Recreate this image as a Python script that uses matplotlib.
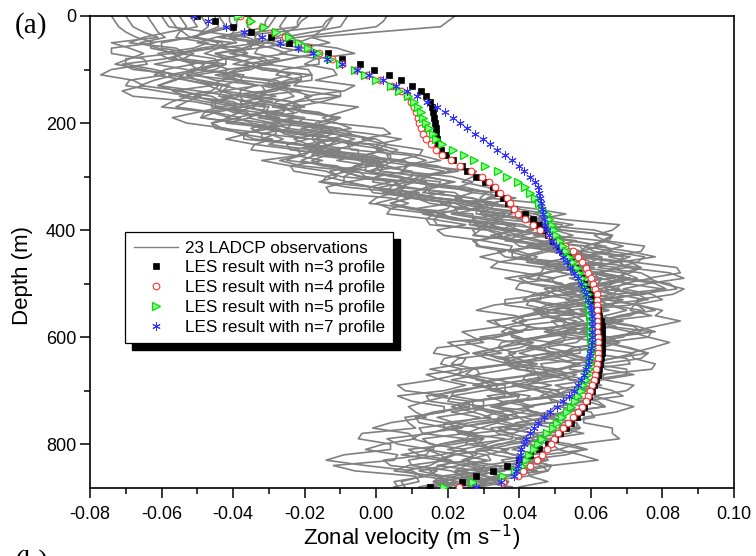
import numpy as np
import matplotlib
matplotlib.use('Agg')
import matplotlib.pyplot as plt
from matplotlib.patches import Rectangle
from matplotlib.ticker import MultipleLocator

plt.rcParams['font.family'] = ['Liberation Sans', 'DejaVu Sans']

# LADCP zonal velocity (mm/s) for the 23 casts, at 0, 20, 40 ... 880 m
obs_depth = np.arange(0, 881, 20)
ladcp_u = [
    [-74, -72, -67, -74, -65, -74, -68, -71, -51, -50, -53, -38, -34, -23, -24, -14, -14, 4, 4, 16, 17, 30, 37, 34, 41, 40, 46, 33, 39, 35, 27, 17, 25, 15, 16, 8, 14, 11, 4, 9, 2, 6, -12, 11, 5],
    [-12, -14, -18, -21, -16, -26, -21, -10, -22, -16, -16, -2, 0, 12, 9, 21, 23, 39, 39, 45, 61, 63, 71, 68, 82, 76, 77, 72, 77, 65, 76, 70, 74, 64, 63, 66, 57, 60, 52, 58, 51, 53, 46, 42, 30],
    [-64, -62, -59, -61, -70, -62, -62, -54, -53, -45, -46, -30, -30, -20, -21, -9, -1, 0, 11, 16, 32, 27, 40, 42, 48, 43, 52, 42, 43, 35, 34, 30, 23, 28, 21, 25, 15, 18, 12, 15, 6, 14, 4, 14, 6],
    [-35, -36, -32, -29, -35, -28, -30, -21, -32, -22, -21, -7, -7, -3, 11, 12, 21, 22, 40, 40, 51, 54, 66, 60, 71, 70, 75, 65, 64, 67, 61, 63, 55, 61, 54, 56, 49, 54, 42, 48, 43, 47, 36, 30, 36],
    [-55, -53, -56, -51, -58, -49, -53, -46, -48, -38, -31, -32, -21, -18, -4, -10, 4, 10, 20, 21, 40, 38, 46, 44, 55, 56, 50, 55, 48, 52, 38, 40, 34, 37, 28, 36, 26, 27, 19, 26, 22, 12, 19, 19, 22],
    [-21, -22, -44, -37, -42, -35, -39, -38, -29, -30, -22, -23, -5, -7, 2, 4, 17, 15, 30, 35, 50, 48, 54, 63, 59, 66, 59, 65, 58, 60, 53, 57, 45, 51, 46, 50, 39, 39, 45, 34, 35, 28, 34, 25, 29],
    [-49, -47, -50, -43, -42, -50, -43, -43, -32, -40, -27, -23, -13, -14, 3, 0, 9, 11, 26, 33, 37, 50, 50, 60, 55, 62, 57, 60, 51, 59, 47, 47, 39, 46, 42, 32, 39, 34, 37, 27, 30, 22, 30, 22, 24],
    [3, 0, -22, -26, -24, -32, -18, -23, -23, -23, -11, -15, 0, 3, 16, 13, 20, 33, 33, 46, 49, 63, 63, 71, 69, 78, 67, 73, 68, 72, 65, 64, 70, 59, 60, 53, 59, 52, 56, 44, 49, 43, 49, 33, 29],
    [-41, -40, -52, -63, -56, -59, -53, -57, -40, -45, -37, -37, -22, -17, -15, -3, -2, 12, 11, 24, 29, 40, 38, 52, 47, 52, 45, 52, 48, 38, 40, 34, 37, 27, 30, 22, 30, 21, 23, 13, 18, 18, 9, 17, 12],
    [-30, -31, -34, -37, -31, -42, -31, -31, -24, -29, -23, -12, -12, -1, 0, 13, 14, 26, 28, 43, 42, 56, 58, 68, 62, 66, 73, 62, 63, 56, 63, 55, 59, 47, 52, 46, 52, 43, 39, 44, 38, 39, 30, 36, 26],
    [-60, -58, -36, -44, -42, -49, -38, -36, -38, -28, -28, -16, -17, -6, -3, 7, 6, 24, 23, 34, 37, 52, 55, 51, 63, 62, 66, 56, 59, 51, 58, 48, 50, 40, 45, 45, 36, 38, 33, 38, 25, 31, 27, 28, 19],
    [-70, -68, -61, -69, -69, -65, -69, -61, -57, -46, -46, -36, -34, -21, -24, -11, -8, 6, 4, 14, 31, 28, 36, 35, 46, 43, 48, 36, 41, 35, 33, 23, 19, 24, 18, 19, 10, 19, 9, -4, 4, -9, -3, 13, 8],
    [22, 18, -18, -11, -17, -12, -17, -9, -18, -10, -12, 4, 3, 12, 13, 27, 31, 31, 47, 52, 66, 64, 74, 72, 85, 80, 83, 73, 78, 78, 76, 77, 72, 77, 64, 70, 66, 67, 58, 66, 56, 57, 49, 43, 40],
    [-12, -15, -41, -33, -39, -36, -38, -28, -37, -26, -24, -12, -14, -6, 9, 5, 14, 17, 32, 35, 50, 46, 58, 58, 69, 64, 61, 66, 60, 61, 53, 61, 51, 51, 46, 51, 39, 45, 40, 44, 34, 33, 36, 24, 27],
    [-45, -44, -51, -46, -54, -45, -50, -44, -45, -33, -30, -32, -16, -13, -1, -4, 7, 9, 26, 27, 40, 38, 50, 56, 52, 58, 54, 59, 46, 52, 45, 45, 36, 44, 34, 35, 27, 33, 30, 23, 28, 21, 25, 18, 21],
    [-19, -22, -28, -20, -24, -19, -25, -20, -15, -21, -13, -12, 3, 4, 17, 12, 25, 29, 44, 45, 52, 65, 66, 73, 69, 82, 73, 73, 68, 73, 66, 71, 66, 70, 60, 59, 62, 53, 56, 48, 54, 47, 49, 33, 38],
    [-52, -50, -65, -56, -59, -68, -56, -56, -43, -48, -38, -38, -21, -22, -11, -14, -1, 9, 9, 21, 27, 40, 34, 46, 47, 52, 44, 52, 42, 43, 29, 34, 31, 24, 29, 22, 26, 16, 19, 13, 16, 7, 15, 13, 14],
    [-8, -10, -26, -35, -33, -39, -28, -30, -24, -31, -19, -17, -2, -3, 2, 14, 16, 27, 27, 46, 47, 55, 57, 68, 61, 71, 67, 71, 61, 60, 65, 55, 58, 50, 56, 49, 51, 44, 49, 37, 43, 38, 42, 27, 27],
    [-38, -39, -41, -49, -45, -52, -39, -43, -35, -40, -28, -20, -20, -10, -6, 6, 1, 17, 22, 33, 35, 51, 48, 55, 52, 62, 60, 53, 58, 51, 53, 42, 45, 39, 42, 33, 41, 31, 32, 24, 31, 27, 17, 26, 21],
    [-25, -27, -23, -33, -27, -32, -21, -25, -28, -18, -17, -8, -8, 9, 8, 15, 18, 33, 30, 46, 52, 64, 61, 66, 74, 69, 73, 65, 71, 64, 69, 61, 66, 54, 60, 55, 59, 48, 48, 54, 43, 44, 37, 37, 30],
    [-58, -56, -52, -60, -54, -53, -57, -50, -46, -36, -42, -28, -23, -14, -14, 1, -1, 10, 11, 27, 35, 36, 48, 47, 56, 50, 54, 48, 51, 42, 45, 34, 35, 27, 34, 30, 20, 27, 22, 25, 15, 18, 10, 24, 15],
    [-28, -30, -45, -38, -43, -41, -45, -31, -36, -31, -29, -16, -19, -5, -1, 10, 8, 17, 29, 30, 44, 44, 57, 56, 63, 60, 66, 54, 60, 55, 58, 46, 46, 52, 41, 42, 35, 41, 34, 38, 26, 31, 25, 31, 22],
    [-44, -42, -52, -45, -57, -50, -49, -43, -45, -32, -35, -26, -25, -11, -5, -5, 8, 11, 24, 24, 38, 40, 50, 47, 60, 54, 56, 48, 55, 51, 38, 44, 39, 42, 32, 35, 27, 35, 26, 28, 18, 23, 23, 17, 19],
]

# the same casts at the in-between depths 10, 30, 50 ... 870 m
mid_depth = np.arange(10, 871, 20)
ladcp_u_mid = [
    [-73, -70, -62, -74, -64, -77, -65, -68, -43, -57, -42, -29, -35, -15, -23, -8, -13, 9, 3, 25, 19, 38, 43, 32, 50, 39, 46, 28, 42, 24, 30, 16, 24, 23, 6, 20, 9, 14, -1, 11, -3, 5, -6, 12],
    [-13, -16, -13, -27, -16, -28, -23, -10, -28, -12, -15, 7, 1, 18, 7, 27, 27, 32, 48, 44, 66, 61, 78, 70, 86, 69, 80, 71, 64, 77, 64, 76, 63, 72, 60, 69, 51, 61, 51, 48, 58, 41, 48, 30],
    [-63, -61, -66, -57, -70, -56, -66, -49, -56, -38, -43, -26, -18, -27, -6, -9, 5, -2, 19, 17, 38, 29, 45, 52, 40, 57, 43, 49, 31, 40, 25, 35, 21, 29, 30, 14, 26, 11, 20, 3, 15, 2, 17, 5],
    [-36, -34, -36, -25, -40, -24, -30, -34, -21, -31, -10, -13, 3, -1, 19, 9, 27, 27, 33, 52, 44, 64, 57, 74, 66, 80, 62, 70, 62, 57, 68, 50, 62, 52, 63, 48, 59, 40, 50, 42, 38, 48, 24, 37],
    [-54, -55, -47, -61, -45, -55, -44, -55, -38, -42, -24, -32, -16, -4, -13, 6, 3, 21, 13, 36, 32, 50, 40, 54, 63, 47, 62, 48, 56, 37, 44, 30, 44, 28, 36, 38, 21, 32, 19, 30, 9, 21, 12, 29],
    [-22, -33, -33, -45, -32, -45, -34, -38, -37, -20, -32, -10, -12, 5, -2, 18, 8, 28, 29, 36, 55, 42, 63, 55, 71, 58, 69, 54, 64, 53, 48, 57, 39, 53, 42, 53, 34, 49, 32, 40, 28, 24, 36, 18],
    [-48, -49, -43, -36, -52, -38, -47, -32, -44, -29, -32, -10, -19, -2, 9, -1, 19, 15, 36, 27, 49, 43, 63, 53, 63, 67, 53, 65, 51, 59, 39, 48, 36, 52, 32, 40, 44, 30, 41, 25, 32, 18, 31, 16],
    [2, -11, -30, -17, -33, -18, -29, -18, -27, -24, -7, -17, 6, 4, 23, 12, 34, 25, 45, 44, 49, 69, 58, 74, 68, 81, 65, 78, 62, 74, 61, 60, 71, 51, 61, 50, 64, 49, 57, 39, 51, 42, 34, 37],
    [-41, -46, -63, -56, -51, -62, -46, -53, -37, -49, -32, -37, -12, -21, -5, 4, -1, 21, 14, 33, 27, 44, 38, 58, 45, 53, 56, 44, 52, 35, 43, 28, 37, 22, 34, 21, 30, 29, 12, 25, 14, 20, 5, 20],
    [-31, -33, -32, -40, -29, -42, -24, -36, -22, -30, -25, -6, -16, 3, 1, 22, 15, 34, 28, 48, 45, 50, 69, 56, 68, 64, 76, 58, 67, 52, 64, 53, 46, 56, 40, 53, 42, 49, 37, 48, 31, 40, 29, 24],
    [-59, -47, -32, -48, -42, -37, -43, -28, -37, -22, -30, -12, -19, 3, -3, 11, 22, 18, 38, 32, 51, 46, 58, 50, 71, 59, 65, 65, 49, 64, 49, 55, 37, 48, 38, 49, 32, 40, 43, 26, 37, 25, 34, 16],
    [-69, -65, -74, -65, -73, -59, -70, -52, -60, -41, -45, -42, -22, -32, -14, -16, 7, 0, 16, 15, 35, 28, 29, 47, 36, 50, 36, 47, 33, 41, 20, 26, 18, 14, 25, 6, 19, 8, 11, -5, 4, -14, 10, 7],
    [20, 0, -22, -6, -20, -11, -6, -20, -5, -15, 2, -4, 13, 6, 28, 24, 35, 46, 44, 68, 61, 75, 65, 84, 76, 86, 73, 80, 85, 71, 82, 71, 78, 63, 72, 61, 72, 58, 66, 68, 51, 62, 42, 48],
    [-14, -28, -31, -45, -34, -43, -25, -38, -25, -33, -13, -17, -17, 8, -2, 14, 10, 33, 29, 50, 40, 57, 54, 57, 73, 54, 68, 57, 69, 52, 64, 48, 56, 45, 42, 51, 33, 47, 36, 47, 29, 42, 22, 31],
    [-45, -48, -44, -57, -42, -53, -43, -38, -45, -23, -35, -18, -23, -2, -10, 10, 3, 22, 34, 28, 48, 40, 59, 46, 60, 49, 65, 48, 53, 56, 39, 50, 36, 45, 27, 36, 23, 40, 22, 30, 32, 17, 31, 16],
    [-21, -25, -31, -16, -31, -18, -29, -10, -23, -10, -21, 0, 0, 4, 21, 10, 31, 31, 53, 44, 66, 58, 75, 67, 69, 84, 64, 75, 65, 78, 64, 76, 60, 70, 56, 54, 64, 46, 56, 45, 59, 43, 48, 28],
    [-51, -58, -69, -53, -71, -54, -61, -46, -39, -49, -29, -34, -16, -25, -8, -15, 12, 4, 19, 31, 28, 46, 36, 53, 42, 53, 41, 55, 38, 40, 39, 27, 37, 23, 32, 16, 26, 11, 24, 10, 16, 18, 8, 23],
    [-9, -18, -35, -41, -30, -43, -25, -33, -20, -30, -11, -18, 2, -5, 1, 21, 13, 31, 31, 55, 46, 63, 55, 70, 62, 62, 75, 57, 65, 57, 68, 52, 61, 45, 58, 46, 41, 53, 34, 44, 35, 48, 30, 34],
    [-39, -40, -39, -55, -44, -53, -33, -44, -34, -27, -30, -11, -19, -2, -8, 9, 2, 28, 23, 38, 50, 44, 61, 50, 63, 53, 62, 49, 63, 47, 52, 51, 36, 50, 34, 43, 28, 37, 21, 36, 24, 26, 29, 18],
    [-26, -25, -23, -34, -37, -21, -32, -23, -29, -10, -18, -1, -7, 14, 8, 10, 32, 23, 42, 43, 66, 58, 71, 62, 77, 67, 62, 74, 59, 71, 59, 72, 55, 64, 50, 62, 50, 41, 57, 40, 48, 35, 45, 29],
    [-57, -54, -60, -51, -62, -50, -61, -40, -46, -35, -28, -32, -10, -18, -1, -8, 10, 4, 27, 26, 40, 49, 42, 61, 49, 58, 43, 55, 40, 52, 35, 39, 38, 25, 41, 21, 30, 17, 29, 13, 25, 9, 21, 27],
    [-29, -38, -50, -36, -46, -50, -32, -43, -30, -36, -15, -23, -5, -11, 10, 5, 6, 29, 21, 41, 38, 59, 52, 67, 54, 68, 56, 50, 64, 48, 56, 40, 57, 42, 49, 31, 43, 34, 29, 38, 20, 32, 22, 35],
    [-43, -47, -40, -55, -48, -58, -41, -51, -31, -39, -27, -19, -24, 1, -9, 8, 2, 23, 17, 39, 34, 49, 56, 48, 66, 51, 58, 44, 58, 38, 49, 37, 45, 44, 28, 40, 27, 37, 19, 28, 14, 31, 15, 22],
]

# LES zonal velocity (mm/s) every 10 m for the four mixing-profile exponents
les_depth = np.arange(0, 881, 10)
les_n3 = [-50, -45, -40, -35, -29.5, -24.5, -19, -13.5, -9.5, -4.5,
          -0.5, 3.5, 7, 10, 12.5, 14, 15, 15.6, 16, 16.2,
          16.4, 16.6, 16.8, 17, 17.3, 18, 19.5, 21.5, 24, 25.5,
          28, 30.5, 32.5, 34, 35.5, 36.8, 38.5, 41.5, 43.8, 45.5,
          46.6, 48, 49.5, 51, 52.3, 53.5, 54.5, 55.5, 56.5, 57.3,
          58.2, 59, 59.8, 60.6, 61.5, 62, 62.4, 62.7, 63, 63,
          63, 63, 63, 63, 62.8, 62.6, 62.3, 62, 61.5, 60.8,
          60.3, 59.5, 58.8, 58, 57.2, 56, 54.5, 53, 51.5, 50,
          48, 45.5, 43, 40, 36.5, 32.5, 28, 24, 15]
les_n4 = [-38, -35.5, -32, -28.5, -25.5, -22, -19, -16, -12.5, -9.5,
          -6, -2.5, 1, 4.5, 7, 8.5, 9.8, 10.6, 11.2, 11.6,
          12, 12.4, 13.2, 14, 15.3, 16.6, 18.5, 21, 23.5, 26.5,
          29.5, 31.5, 33.3, 34.6, 36.5, 37.5, 38.5, 39.5, 41.5, 43.8,
          45.8, 48.3, 50.5, 52.8, 55, 56.3, 57.5, 58.5, 59.3, 60,
          60.6, 61.2, 61.7, 61.7, 61.7, 61.7, 61.7, 61.7, 61.7, 61.8,
          61.9, 62, 62, 62, 62, 61.8, 61.5, 61.2, 60.8, 60.3,
          59.8, 59.3, 58.7, 57.6, 56.3, 55, 53.6, 52.2, 50.8, 49.6,
          48.8, 47.8, 46.3, 44.8, 43, 41, 39.5, 35.5, 23]
les_n5 = [-38.5, -35, -31.5, -28, -24.5, -21.5, -19, -16.3, -13, -10,
          -6, -3, 0, 4, 6.5, 8.8, 10.6, 11.7, 12.5, 13,
          14, 14.8, 15.8, 16.8, 18.5, 21.5, 24.5, 27.3, 30.5, 34,
          36.5, 39.5, 41.5, 43, 44.5, 45.5, 46.2, 47.7, 48.3, 49,
          49.6, 50.3, 51.3, 52.2, 53.1, 54, 55, 56, 56.8, 57.5,
          58.2, 58.7, 59.1, 59.4, 59.6, 59.8, 59.8, 59.9, 60, 60.1,
          60.1, 60.2, 60.2, 60.1, 60, 59.8, 59.5, 59, 58.5, 57.9,
          57.2, 56.4, 55.5, 54.5, 53.3, 51.8, 50.5, 49.3, 47.8, 46.3,
          45.3, 44, 42.8, 42, 40.7, 38.8, 35.5, 27, 19]
les_n7 = [-51, -47, -42, -37, -32, -27, -22, -17.8, -13.8, -9.5,
          -5.5, -2, 2, 5.5, 8.5, 11.5, 14.3, 17, 19.3, 21.5,
          23.5, 25.5, 27.7, 29.8, 31.8, 33.8, 36, 38, 39.8, 41.3,
          43, 44.3, 45.2, 45.5, 45.8, 46, 46.2, 46.5, 46.8, 47.3,
          47.8, 48.4, 49.2, 50.2, 51.2, 52.3, 53.3, 54.3, 55.3, 56.3,
          57.2, 58, 58.7, 59.3, 59.7, 60, 60.2, 60.3, 60.4, 60.4,
          60.3, 60.2, 60, 59.8, 59.5, 59.1, 58.6, 58, 57.3, 56.4,
          55.2, 53.8, 52.3, 50.5, 48.6, 46.8, 45.2, 44, 43, 42,
          41.2, 40.6, 40.1, 39.8, 39.5, 39.2, 38.5, 35, 28]

les_labels = ['LES result with n=3 profile', 'LES result with n=4 profile',
              'LES result with n=5 profile', 'LES result with n=7 profile']
x_ticks = [-0.08, -0.06, -0.04, -0.02, 0.00, 0.02, 0.04, 0.06, 0.08, 0.10]
y_ticks = [0, 200, 400, 600, 800]


def cast_profile(coarse, fine):
    # merge the 20 m samples with the in-between ones, ordered by depth
    depth = np.concatenate([obs_depth, mid_depth])
    u = np.concatenate([coarse, fine]) / 1000.0
    order = np.argsort(depth)
    return u[order], depth[order]


def draw_observations(ax):
    for i, (coarse, fine) in enumerate(zip(ladcp_u, ladcp_u_mid)):
        u, depth = cast_profile(coarse, fine)
        label = '23 LADCP observations' if i == 0 else None
        ax.plot(u, depth, color='#808080', lw=1.2, zorder=2, label=label)


def draw_les(ax):
    styles = [
        dict(marker='s', ms=4.5, mfc='black', mec='black', mew=0.5),
        dict(marker='o', ms=4.8, mfc='white', mec='#ff3030', mew=0.8),
        dict(marker='>', ms=5.2, mfc='#90ff90', mec='#00dd00', mew=0.9),
        dict(marker=(6, 2, 0), ms=6, mfc='#3030ff', mec='#3030ff', mew=0.7),
    ]
    series = [les_n3, les_n4, les_n5, les_n7]
    for u, label, st in zip(series, les_labels, styles):
        ax.plot(np.array(u) / 1000.0, les_depth, ls='none', label=label,
                zorder=3, **st)


def style_axes(ax):
    ax.set_xlim(-0.08, 0.10)
    ax.set_ylim(882, 0)
    ax.set_xticks(x_ticks)
    ax.set_xticklabels([f'{t:.2f}' for t in x_ticks])
    ax.set_yticks(y_ticks)
    ax.xaxis.set_minor_locator(MultipleLocator(0.01))
    ax.yaxis.set_minor_locator(MultipleLocator(100))
    ax.tick_params(which='both', direction='out', top=False, right=False,
                   labelsize=13, width=1.1)
    ax.tick_params(which='major', length=7)
    ax.tick_params(which='minor', length=4)
    ax.tick_params(axis='x', which='major', pad=6)
    ax.tick_params(axis='y', which='major', pad=3)
    for sp in ax.spines.values():
        sp.set_linewidth(1.2)
    ax.set_xlabel('Zonal velocity (m s$^{-1}$)', fontsize=16)
    ax.set_ylabel('Depth (m)', fontsize=16)
    ax.xaxis.set_label_coords(0.5, -0.073)
    ax.yaxis.set_label_coords(-0.088, 0.45)


def add_legend(fig, ax):
    handles, labels = ax.get_legend_handles_labels()
    leg = fig.legend(handles, labels, loc='upper left',
                     bbox_to_anchor=(125 / 756, 1 - 232 / 556),
                     bbox_transform=fig.transFigure, borderaxespad=0,
                     fontsize=12.3, frameon=True, fancybox=False,
                     edgecolor='black', framealpha=1, numpoints=1,
                     handlelength=2.6, handletextpad=0.4, labelspacing=0.28,
                     borderpad=0.5)
    leg.get_frame().set_linewidth(0.9)
    leg.get_lines()[0].set_linewidth(1.0)
    leg.set_zorder(6)
    fig.canvas.draw()
    bb = leg.get_window_extent().transformed(fig.transFigure.inverted())
    dx, dy = 7 / 756, 7 / 556
    fig.add_artist(Rectangle((bb.x0 + dx, bb.y0 - dy), bb.width, bb.height,
                             transform=fig.transFigure, color='black',
                             zorder=5.5))


if __name__ == '__main__':
    fig = plt.figure(figsize=(7.56, 5.56), dpi=100)
    ax = fig.add_axes([90 / 756, 1 - 488 / 556, 644 / 756, 472 / 556])
    draw_observations(ax)
    draw_les(ax)
    style_axes(ax)
    add_legend(fig, ax)
    fig.text(15 / 756, 1 - 26 / 556, '(a)', family='Liberation Serif',
             fontsize=21, va='center', ha='left')
    fig.text(15 / 756, 1 - 549 / 556, '(b)', family='Liberation Serif',
             fontsize=21, va='top', ha='left')
    fig.savefig('out.png', dpi=100)
